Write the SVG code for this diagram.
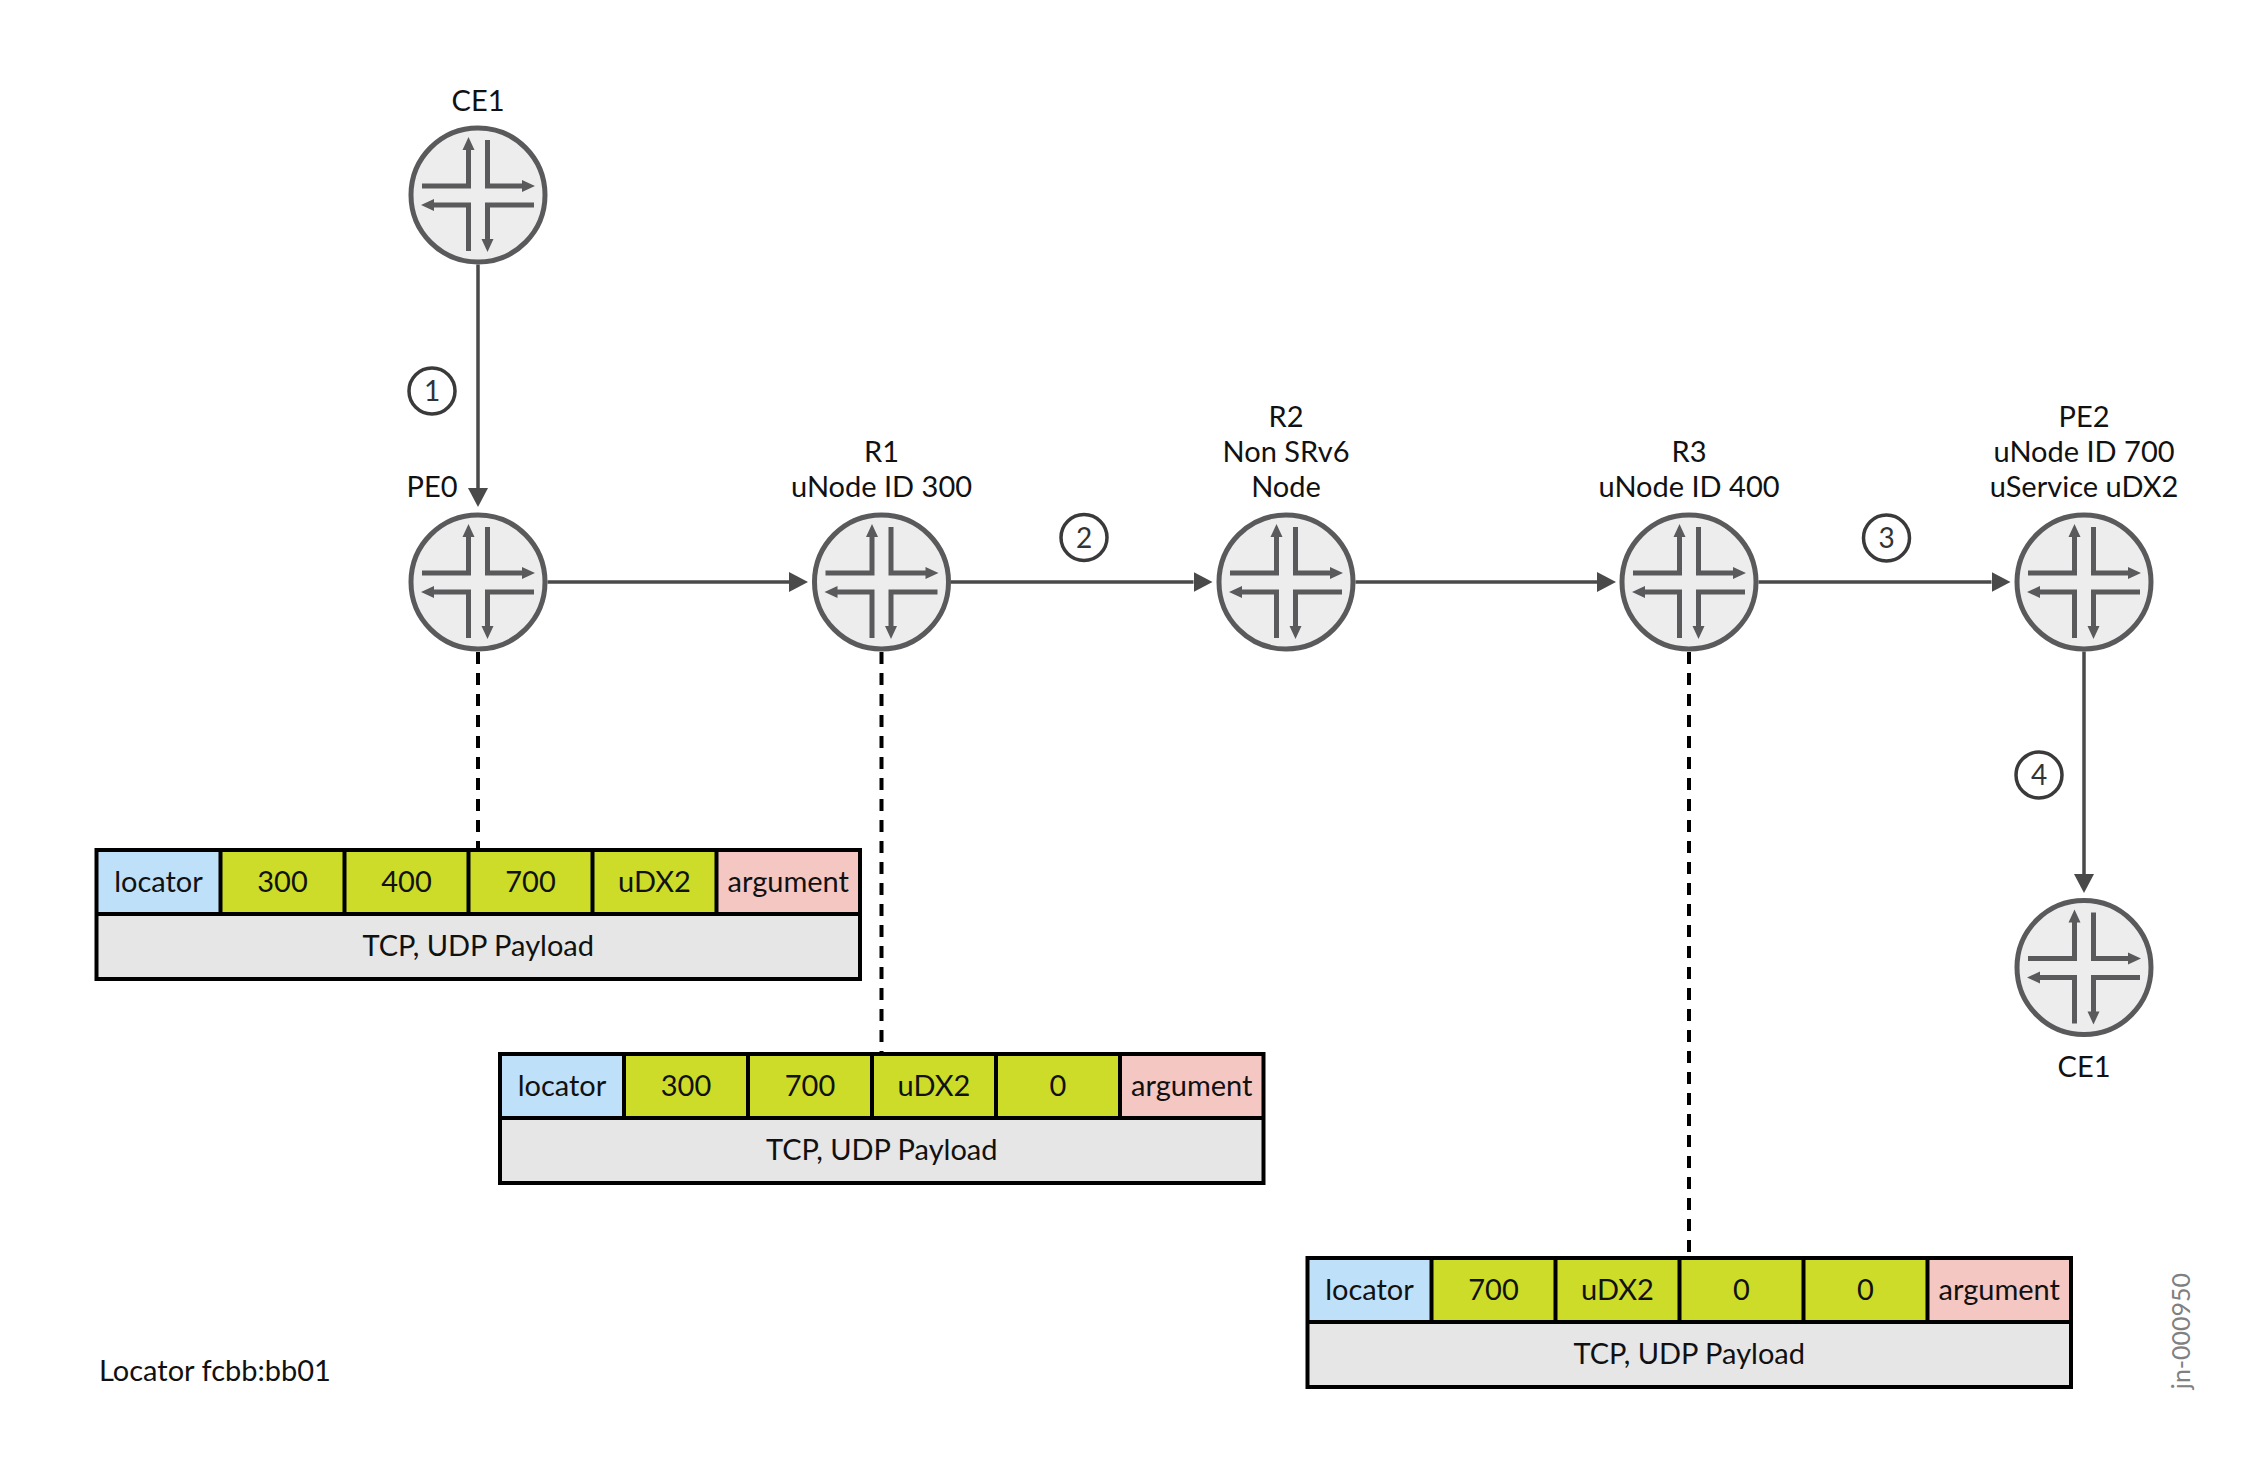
<svg xmlns="http://www.w3.org/2000/svg" xmlns:xlink="http://www.w3.org/1999/xlink" width="2250" height="1472" viewBox="0 0 2250 1472">
<style>
text{font-family:Lato,"Liberation Sans",sans-serif;fill:#111;}
.lbl{font-size:29px;text-anchor:middle;}
.cell{font-size:29px;text-anchor:middle;}
.num{font-size:28px;text-anchor:middle;fill:#333;}
.conn{stroke:#4a4a4a;stroke-width:3.5;fill:none;marker-end:url(#ah);}
.dash{stroke:#000;stroke-width:4;stroke-dasharray:12 9;fill:none;}
.step{fill:#fff;stroke:#3a3a3a;stroke-width:3.5;}
.loc{fill:#bee0f9;}
.grn{fill:#cddc28;}
.arg{fill:#f4c7c3;}
.pay{fill:#e6e6e6;}
.frame{fill:none;stroke:#000;stroke-width:4;}
</style>
<defs>
<marker id="ah" viewBox="0 0 19 20" refX="0" refY="10" markerWidth="19" markerHeight="20" markerUnits="userSpaceOnUse" orient="auto"><path d="M0,0 L19,10 L0,20 Z" fill="#4a4a4a"/></marker>
<g id="rt">
<circle r="67" fill="#ededed" stroke="#5a5a5c" stroke-width="5"/>
<path d="M-56,-9 H-9.5 V-46 M9.5,-55 V-9 H45 M56,10 H9.5 V45 M-9.5,56 V10 H-45" fill="none" stroke="#5a5a5c" stroke-width="5"/>
<path d="M-9.5,-58 L-15.5,-45 L-3.5,-45 Z M57,-9 L44,-15 L44,-3 Z M9.5,57 L3.5,44 L15.5,44 Z M-57,10 L-44,4 L-44,16 Z" fill="#5a5a5c"/>
</g>
<g id="hdr">
<rect class="loc" x="0" y="0" width="124" height="64"/>
<rect class="grn" x="124" y="0" width="496" height="64"/>
<rect class="arg" x="620" y="0" width="143.5" height="64"/>
<rect class="pay" x="0" y="64" width="763.5" height="65"/>
<rect class="frame" x="0" y="0" width="763.5" height="129"/>
<path class="frame" d="M0,64 H763.5 M124,0 V64 M248,0 V64 M372,0 V64 M496,0 V64 M620,0 V64"/>
</g>
</defs>
<rect width="2250" height="1472" fill="#fff"/>

<g id="connectors">
<line class="conn" x1="478" y1="264.5" x2="478" y2="488"/>
<line class="conn" x1="547.5" y1="582" x2="789" y2="582"/>
<line class="conn" x1="951" y1="582" x2="1193.5" y2="582"/>
<line class="conn" x1="1355.5" y1="582" x2="1597" y2="582"/>
<line class="conn" x1="1758.5" y1="582" x2="1991.5" y2="582"/>
<line class="conn" x1="2084" y1="651.5" x2="2084" y2="874"/>
<line class="dash" x1="478" y1="652" x2="478" y2="850"/>
<line class="dash" x1="881.5" y1="652" x2="881.5" y2="1054"/>
<line class="dash" x1="1689" y1="652" x2="1689" y2="1258"/>
</g>

<g id="steps">
<circle class="step" cx="432" cy="391" r="23"/><text class="num" x="432" y="401">1</text>
<circle class="step" cx="1084" cy="537.5" r="23"/><text class="num" x="1084" y="547.5">2</text>
<circle class="step" cx="1886.5" cy="538" r="23"/><text class="num" x="1886.5" y="548">3</text>
<circle class="step" cx="2039" cy="775" r="23"/><text class="num" x="2039" y="785">4</text>
</g>

<g id="ce1-top">
<use xlink:href="#rt" x="478" y="195"/>
<text class="lbl" x="478" y="110.5">CE1</text>
</g>
<g id="pe0">
<use xlink:href="#rt" x="478" y="582"/>
<text class="lbl" x="432" y="497">PE0</text>
</g>
<g id="r1">
<use xlink:href="#rt" x="881.5" y="582"/>
<text class="lbl" x="881.5" y="462">R1</text>
<text class="lbl" x="881.5" y="497">uNode ID 300</text>
</g>
<g id="r2">
<use xlink:href="#rt" x="1286" y="582"/>
<text class="lbl" x="1286" y="427">R2</text>
<text class="lbl" x="1286" y="462">Non SRv6</text>
<text class="lbl" x="1286" y="497">Node</text>
</g>
<g id="r3">
<use xlink:href="#rt" x="1689" y="582"/>
<text class="lbl" x="1689" y="462">R3</text>
<text class="lbl" x="1689" y="497">uNode ID 400</text>
</g>
<g id="pe2">
<use xlink:href="#rt" x="2084" y="582"/>
<text class="lbl" x="2084" y="427">PE2</text>
<text class="lbl" x="2084" y="462">uNode ID 700</text>
<text class="lbl" x="2084" y="497">uService uDX2</text>
</g>
<g id="ce1-bottom">
<use xlink:href="#rt" x="2084" y="967.5"/>
<text class="lbl" x="2084" y="1077">CE1</text>
</g>

<g id="header1" transform="translate(96.5,850)">
<use xlink:href="#hdr"/>
<text class="cell" x="62" y="42">locator</text>
<text class="cell" x="186" y="42">300</text>
<text class="cell" x="310" y="42">400</text>
<text class="cell" x="434" y="42">700</text>
<text class="cell" x="558" y="42">uDX2</text>
<text class="cell" x="691.75" y="42">argument</text>
<text class="cell" x="381.75" y="105.5">TCP, UDP Payload</text>
</g>
<g id="header2" transform="translate(500,1054)">
<use xlink:href="#hdr"/>
<text class="cell" x="62" y="42">locator</text>
<text class="cell" x="186" y="42">300</text>
<text class="cell" x="310" y="42">700</text>
<text class="cell" x="434" y="42">uDX2</text>
<text class="cell" x="558" y="42">0</text>
<text class="cell" x="691.75" y="42">argument</text>
<text class="cell" x="381.75" y="105.5">TCP, UDP Payload</text>
</g>
<g id="header3" transform="translate(1307.5,1258)">
<use xlink:href="#hdr"/>
<text class="cell" x="62" y="42">locator</text>
<text class="cell" x="186" y="42">700</text>
<text class="cell" x="310" y="42">uDX2</text>
<text class="cell" x="434" y="42">0</text>
<text class="cell" x="558" y="42">0</text>
<text class="cell" x="691.75" y="42">argument</text>
<text class="cell" x="381.75" y="105.5">TCP, UDP Payload</text>
</g>

<g id="notes">
<text x="99" y="1381" style="font-size:29px">Locator fcbb:bb01</text>
<text transform="translate(2190,1331) rotate(-90)" style="font-size:25px;text-anchor:middle;fill:#808080">jn-000950</text>
</g>
</svg>
